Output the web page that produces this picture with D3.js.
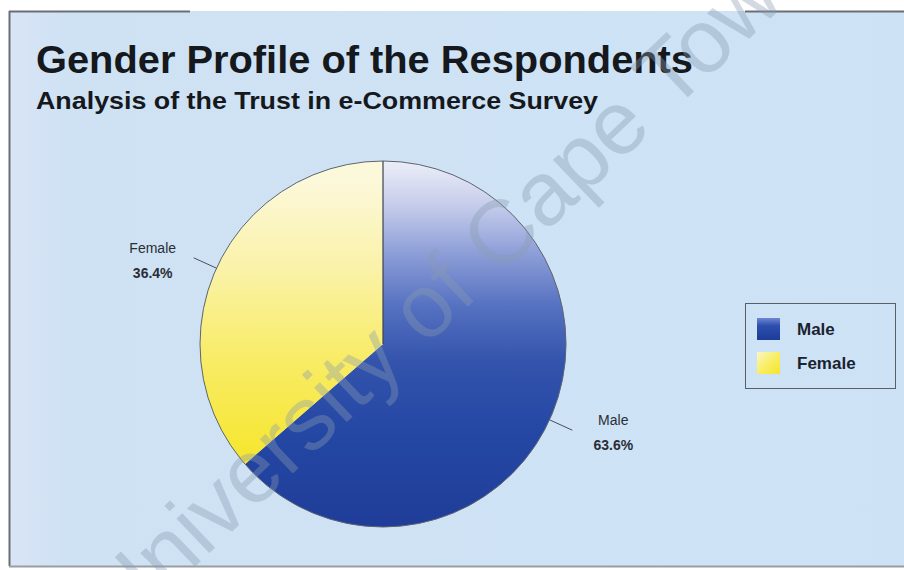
<!DOCTYPE html>
<html>
<head>
<meta charset="utf-8">
<script src="https://cdn.jsdelivr.net/npm/d3@7/dist/d3.min.js"></script>
<style>
  html, body { margin: 0; padding: 0; background: #ffffff; }
  svg { display: block; }
  text { font-family: "Liberation Sans", Arial, Helvetica, sans-serif; }
</style>
</head>
<body>
<svg id="chart" width="904" height="570"></svg>
<script>
// Survey data: gender split of respondents (percent)
const categories = ["Male", "Female"];
const shares = [63.6, 36.4];
const shareLabels = ["63.6%", "36.4%"];

const titleText = "Gender Profile of the Respondents";
const subtitleText = "Analysis of the Trust in e-Commerce Survey";
const watermarkText = "University of Cape Town";

const W = 904, H = 570;
const svg = d3.select("#chart");
const defs = svg.append("defs");

// ---- panel background and frame ----
const bg = defs.append("linearGradient").attr("id", "panelBg")
  .attr("x1", 0).attr("y1", 0).attr("x2", 1).attr("y2", 0);
bg.append("stop").attr("offset", 0).attr("stop-color", "#d9e5f6");
bg.append("stop").attr("offset", 0.06).attr("stop-color", "#cfe2f4");
bg.append("stop").attr("offset", 1).attr("stop-color", "#cde3f5");

svg.append("rect").attr("x", 0).attr("y", 0).attr("width", W).attr("height", H).attr("fill", "#ffffff");
svg.append("rect").attr("x", 9).attr("y", 11).attr("width", W - 9).attr("height", 555)
  .attr("fill", "url(#panelBg)");

const frame = svg.append("g").attr("fill", "none");
frame.append("line").attr("x1", 9.5).attr("y1", 11).attr("x2", 9.5).attr("y2", 566)
  .attr("stroke", "#6b6f74").attr("stroke-width", 2);
frame.append("line").attr("x1", 9).attr("y1", 11.5).attr("x2", 190).attr("y2", 11.5)
  .attr("stroke", "#6b6f74").attr("stroke-width", 2);
frame.append("line").attr("x1", 745).attr("y1", 11.5).attr("x2", W).attr("y2", 11.5)
  .attr("stroke", "#6b6f74").attr("stroke-width", 2);
frame.append("line").attr("x1", 9).attr("y1", 566.5).attr("x2", W).attr("y2", 566.5)
  .attr("stroke", "#9a9ea4").attr("stroke-width", 2);

// ---- titles ----
svg.append("text").attr("x", 36).attr("y", 73)
  .attr("font-size", 38).attr("font-weight", "bold").attr("fill", "#15181c")
  .attr("textLength", 657).attr("lengthAdjust", "spacingAndGlyphs")
  .text(titleText);
svg.append("text").attr("x", 36).attr("y", 109)
  .attr("font-size", 24).attr("font-weight", "bold").attr("fill", "#15181c")
  .attr("textLength", 562).attr("lengthAdjust", "spacingAndGlyphs")
  .text(subtitleText);

// ---- pie ----
const cx = 383, cy = 344, r = 183;
const color = d3.scaleOrdinal().domain(categories).range(["url(#maleFill)", "url(#femaleFill)"]);

// gradients are in the pie group's local space (centre at 0,0)
const mg = defs.append("linearGradient").attr("id", "maleFill")
  .attr("gradientUnits", "userSpaceOnUse")
  .attr("x1", 0).attr("y1", -r).attr("x2", 0).attr("y2", r);
[[0, "#eceef8"], [0.12, "#c6cdeb"], [0.25, "#8e9fd8"], [0.4, "#5470c0"],
 [0.55, "#3353ac"], [0.75, "#2447a4"], [1, "#1f3d98"]]
  .forEach(([o, c]) => mg.append("stop").attr("offset", o).attr("stop-color", c));

const fg = defs.append("linearGradient").attr("id", "femaleFill")
  .attr("gradientUnits", "userSpaceOnUse")
  .attr("x1", 0).attr("y1", -r + 20).attr("x2", 0).attr("y2", 130);
[[0, "#fcf8da"], [0.3, "#faf2a8"], [0.6, "#f8ec68"], [1, "#f6e526"]]
  .forEach(([o, c]) => fg.append("stop").attr("offset", o).attr("stop-color", c));

const pie = d3.pie().sort(null).value(d => d.value);
const slices = pie(categories.map((c, i) => ({ name: c, value: shares[i], label: shareLabels[i] })));
const arc = d3.arc().innerRadius(0).outerRadius(r);

const pieG = svg.append("g").attr("transform", `translate(${cx},${cy})`);
pieG.selectAll("path.slice").data(slices).join("path")
  .attr("class", "slice")
  .attr("d", arc)
  .attr("fill", d => color(d.data.name));

// outline and the divider at the starting angle
pieG.append("circle").attr("r", r).attr("fill", "none").attr("stroke", "#5c6470").attr("stroke-width", 1);
const startPt = d3.pointRadial(slices[0].startAngle, r);
pieG.append("line").attr("x1", 0).attr("y1", 0).attr("x2", startPt[0]).attr("y2", startPt[1])
  .attr("stroke", "#3c4250").attr("stroke-width", 1.2);

// leader lines and labels
slices.forEach(d => {
  const mid = (d.startAngle + d.endAngle) / 2;
  const p0 = d3.pointRadial(mid, r);
  const p1 = d3.pointRadial(mid, r + 25);
  pieG.append("line").attr("x1", p0[0]).attr("y1", p0[1]).attr("x2", p1[0]).attr("y2", p1[1])
    .attr("stroke", "#4a4f58").attr("stroke-width", 1);
  const side = p1[0] >= 0 ? 1 : -1;
  const t = pieG.append("text").attr("text-anchor", "middle").attr("font-size", 14)
    .attr("fill", "#2a2e35");
  t.append("tspan").attr("x", p1[0] + side * 41).attr("y", p1[1] - 5).text(d.data.name);
  t.append("tspan").attr("x", p1[0] + side * 41).attr("y", p1[1] + 20)
    .attr("font-weight", "bold").text(d.data.label);
});

// ---- legend ----
const lmg = defs.append("linearGradient").attr("id", "legMale").attr("x1", 0).attr("y1", 0).attr("x2", 0).attr("y2", 1);
lmg.append("stop").attr("offset", 0).attr("stop-color", "#6f88d2");
lmg.append("stop").attr("offset", 0.35).attr("stop-color", "#2d4fae");
lmg.append("stop").attr("offset", 1).attr("stop-color", "#1e3c98");
const lfg = defs.append("linearGradient").attr("id", "legFemale").attr("x1", 0).attr("y1", 0).attr("x2", 1).attr("y2", 1);
lfg.append("stop").attr("offset", 0).attr("stop-color", "#fbf6c8");
lfg.append("stop").attr("offset", 0.5).attr("stop-color", "#f8ee66");
lfg.append("stop").attr("offset", 1).attr("stop-color", "#f4e52a");
const legendFill = d3.scaleOrdinal().domain(categories).range(["url(#legMale)", "url(#legFemale)"]);

const legend = svg.append("g").attr("transform", "translate(745,303)");
legend.append("rect").attr("x", 0.5).attr("y", 0.5).attr("width", 150).attr("height", 85)
  .attr("fill", "none").attr("stroke", "#5a5e66").attr("stroke-width", 1);
const rows = legend.selectAll("g.row").data(categories).join("g")
  .attr("class", "row").attr("transform", (d, i) => `translate(12,${15 + i * 34})`);
rows.append("rect").attr("width", 23).attr("height", 22).attr("fill", d => legendFill(d));
rows.append("text").attr("x", 40).attr("y", 17).attr("font-size", 17).attr("font-weight", "bold")
  .attr("fill", "#1b2230").text(d => d);

// ---- watermark ----
svg.append("g").attr("transform", "translate(500,232) rotate(-43.6)")
  .append("text").attr("x", -553).attr("y", 32)
  .attr("font-size", 90).attr("fill", "#8a9bb0").attr("fill-opacity", 0.38)
  .text(watermarkText);
</script>
</body>
</html>
